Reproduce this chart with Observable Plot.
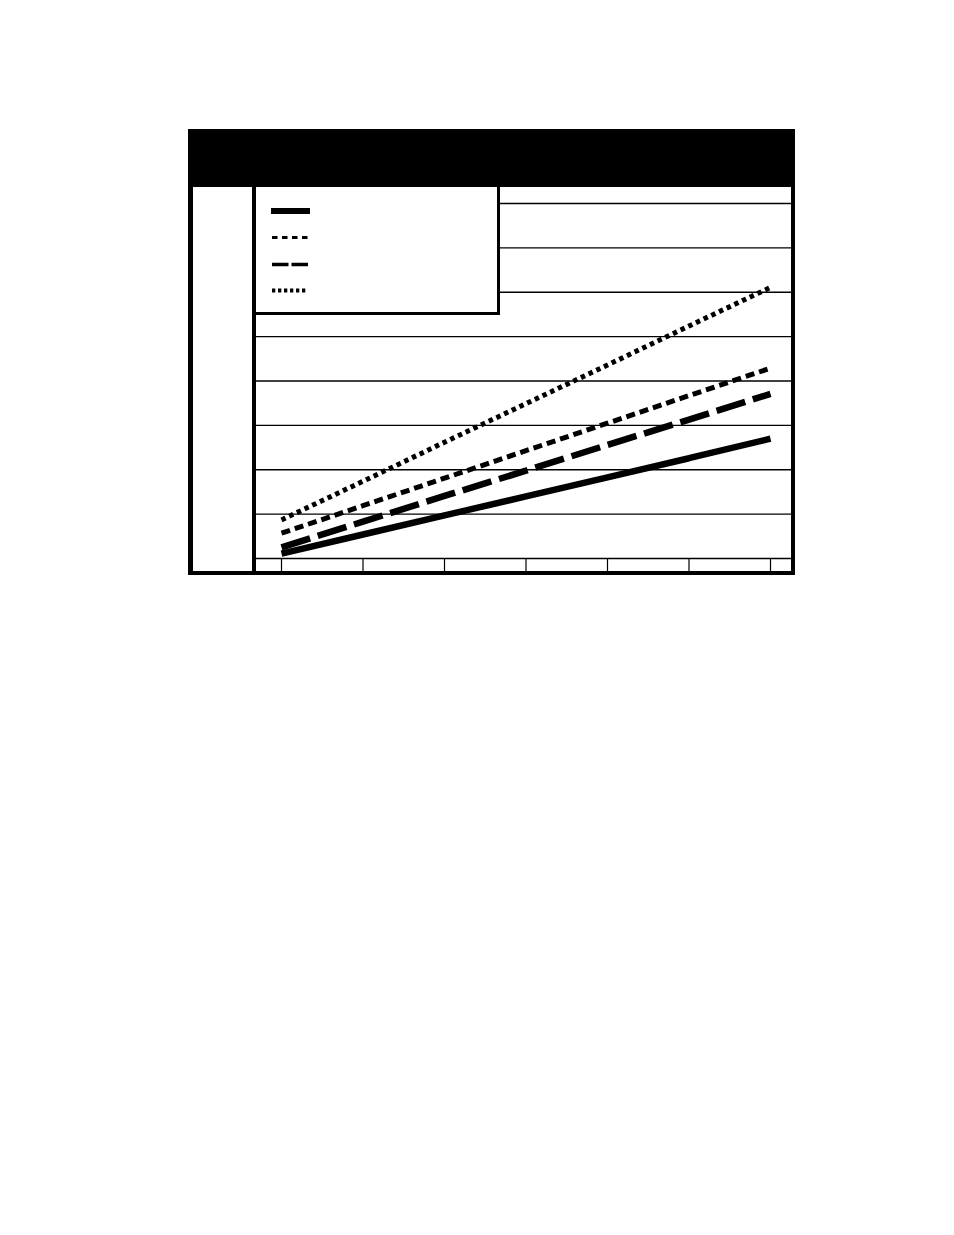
<!DOCTYPE html>
<html>
<head>
<meta charset="utf-8">
<script src="https://cdn.jsdelivr.net/npm/d3@7"></script>
<script src="https://cdn.jsdelivr.net/npm/@observablehq/plot@0.6"></script>
<style>
  html, body { margin: 0; padding: 0; background: #fff; width: 954px; height: 1235px; overflow: hidden; }
  #frame { position: absolute; left: 188px; top: 129px; width: 607px; height: 446px; background: #000; }
  #strip { position: absolute; left: 193px; top: 187px; width: 59px; height: 384px; background: #fff; }
  #plot { position: absolute; left: 256px; top: 187px; width: 535px; height: 384px; background: #fff; }
  #legend { position: absolute; left: 256px; top: 187px; width: 244px; height: 128px; box-sizing: border-box;
            background: #fff; border-right: 3px solid #000; border-bottom: 3px solid #000; }
  #legend svg { position: absolute; left: 0; top: 0; }
</style>
</head>
<body>
<div id="frame"></div>
<div id="strip"></div>
<div id="plot"></div>
<div id="legend"></div>
<script>
// ---- data ----
const xCats = [1, 2, 3, 4, 5, 6, 7];
const yTicks = [0, 10, 20, 30, 40, 50, 60, 70, 80];
const seriesA = [1.1, 5.4, 9.7, 14.0, 18.3, 22.6, 27.0];   // solid
const seriesB = [5.7, 11.9, 18.1, 24.3, 30.5, 36.7, 42.9]; // short dash
const seriesC = [2.5, 8.3, 14.1, 19.8, 25.6, 31.3, 37.1];  // long dash
const seriesD = [8.7, 17.4, 26.2, 34.9, 43.6, 52.4, 61.1]; // dotted

const styles = [
  {key: "A", values: seriesA, width: 6.5, dash: null, legendWidth: 6, legendDash: null},
  {key: "B", values: seriesB, width: 5, dash: "9,5", legendWidth: 3, legendDash: "5.5,4.5"},
  {key: "C", values: seriesC, width: 6.5, dash: "30,8", legendWidth: 3.3, legendDash: "16.5,3"},
  {key: "D", values: seriesD, width: 5, dash: "4.5,4", legendWidth: 4, legendDash: "3.3,2.7"}
];

const rows = s => xCats.map((x, i) => ({x, y: s.values[i]}));

const W = 535, H = 384, mL = 25, mR = 21;

const chart = Plot.plot({
  width: W,
  height: H,
  marginTop: 16,
  marginBottom: 13,
  marginLeft: mL,
  marginRight: mR,
  style: {background: "#fff", overflow: "visible"},
  x: {domain: [1, 7], label: null},
  y: {domain: [0, 80], axis: null},
  marks: [
    Plot.ruleY(yTicks, {stroke: "#000", strokeWidth: 1.3, insetLeft: -mL, insetRight: -mR}),
    Plot.axisX({ticks: xCats, tickSize: 13, tickFormat: () => "", label: null, stroke: "#000", strokeWidth: 1.2, strokeOpacity: 1}),
    ...styles.slice().reverse().map(s =>
      Plot.line(rows(s), {
        x: "x", y: "y", stroke: "#000", strokeWidth: s.width,
        strokeDasharray: s.dash ?? undefined, strokeLinecap: "butt", strokeLinejoin: "miter"
      })
    )
  ]
});
document.getElementById("plot").appendChild(chart);

// ---- legend (line samples only, no text in reference) ----
const legend = d3.select("#legend").append("svg").attr("width", 241).attr("height", 125);
const rowY = [24, 50.5, 77.5, 103.5];
styles.forEach((s, i) => {
  legend.append("line")
    .attr("x1", s.key === "A" ? 15 : 16).attr("x2", s.key === "A" ? 54 : 52)
    .attr("y1", rowY[i]).attr("y2", rowY[i])
    .attr("stroke", "#000").attr("stroke-width", s.legendWidth)
    .attr("stroke-dasharray", s.legendDash);
});
</script>
</body>
</html>
